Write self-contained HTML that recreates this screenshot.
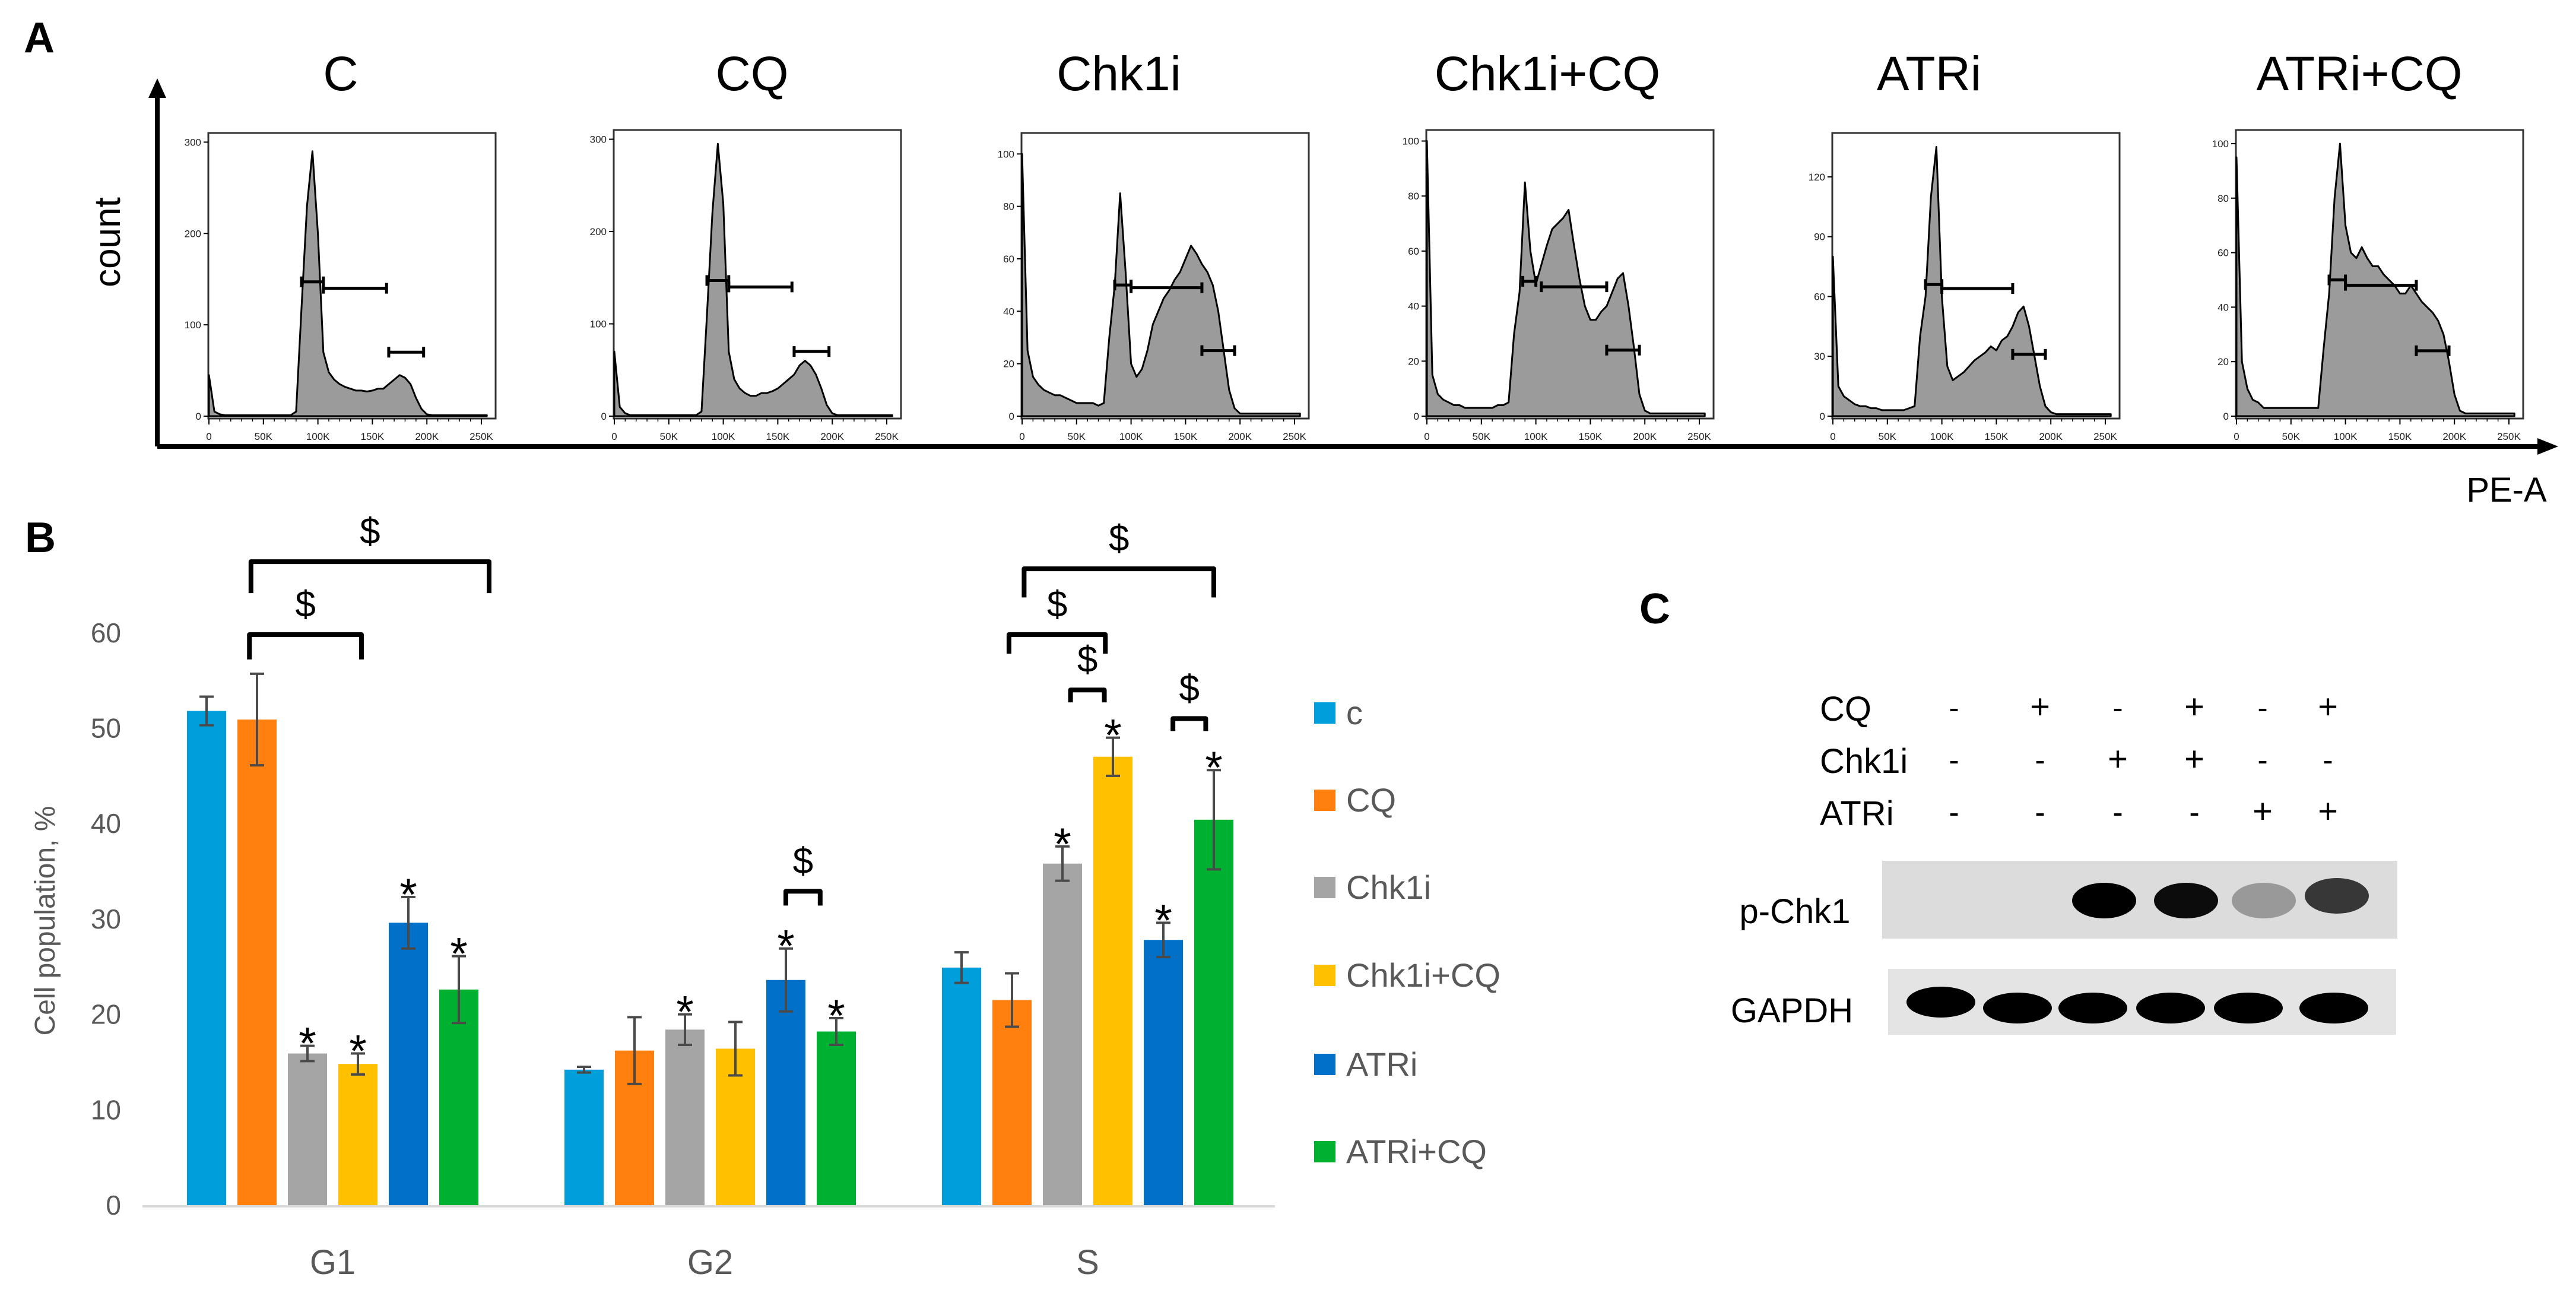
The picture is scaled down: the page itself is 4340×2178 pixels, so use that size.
<!DOCTYPE html>
<html><head><meta charset="utf-8">
<style>
html,body{margin:0;padding:0;background:#fff;}
svg{display:block;}
text{font-family:"Liberation Sans Narrow","Liberation Sans",sans-serif;}
</style></head>
<body>
<svg id="fig" width="4340" height="2178" viewBox="0 0 4340 2178" xmlns="http://www.w3.org/2000/svg">
<g id="panelA"></g>
<g id="panelB"></g>
<g id="panelC"></g>
</svg>
<script>
// ===== Panel A data =====
const histTitles = ["C","CQ","Chk1i","Chk1i+CQ","ATRi","ATRi+CQ"];
const histBins = [0,5,10,15,20,25,30,35,40,45,50,55,60,65,70,75,80,85,90,95,100,105,110,115,120,125,130,135,140,145,150,155,160,165,170,175,180,185,190,195,200,205,210,215,220,225,230,235,240,245,250,255];
const histC    = [45,5,2,1,1,1,1,1,1,1,1,1,1,1,1,1,5,120,230,290,200,70,48,40,35,32,30,28,28,27,28,30,30,35,40,45,42,35,20,8,2,1,1,1,1,1,1,1,1,1,1,1];
const histCQ   = [70,10,3,1,1,1,1,1,1,1,1,1,1,1,1,1,5,110,220,295,230,70,40,30,25,22,22,25,25,27,30,35,40,45,55,60,55,45,30,12,3,1,1,1,1,1,1,1,1,1,1,1];
const histChk  = [100,25,15,12,10,9,8,8,7,6,5,5,5,5,4,5,30,50,85,55,20,15,18,25,35,40,45,48,52,55,60,65,62,58,55,50,40,25,10,3,1,1,1,1,1,1,1,1,1,1,1,1];
const histChkCQ= [100,15,8,6,5,4,4,3,3,3,3,3,3,4,4,5,30,45,85,60,48,55,62,68,70,72,75,62,50,40,35,35,38,40,45,50,52,40,25,8,2,1,1,1,1,1,1,1,1,1,1,1];
const histATR  = [80,15,10,8,6,5,5,4,4,3,3,3,3,3,4,5,40,60,110,135,60,25,18,20,22,25,28,30,32,35,33,38,40,45,52,55,45,30,15,5,2,1,1,1,1,1,1,1,1,1,1,1];
const histATRCQ= [95,20,10,6,5,3,3,3,3,3,3,3,3,3,3,3,25,45,80,100,70,60,58,62,58,55,55,52,50,48,45,45,48,45,42,40,38,35,30,20,8,2,1,1,1,1,1,1,1,1,1,1];
const histSeries = [histC,histCQ,histChk,histChkCQ,histATR,histATRCQ];
const histYMax = [310,310,108,104,142,105];
const histYTicks = [[0,100,200,300],[0,100,200,300],[0,20,40,60,80,100],[0,20,40,60,80,100],[0,30,60,90,120],[0,20,40,60,80,100]];
const histXTicks = ["0","50K","100K","150K","200K","250K"];
const gateG1 = [[85,105,147],[85,105,147],[85,100,50],[88,100,49],[85,100,66],[85,100,50]];
const gateS  = [[105,163,140],[105,163,140],[100,165,49],[105,165,47],[100,165,64],[100,165,48]];
const gateG2 = [[165,197,70],[165,197,70],[165,195,25],[165,195,24],[165,195,31],[165,195,24]];

// ===== Panel B data =====
const categories = ["G1","G2","S"];
const seriesNames = ["c","CQ","Chk1i","Chk1i+CQ","ATRi","ATRi+CQ"];
const seriesColors = ["#009FDB","#FF800F","#A5A5A5","#FFC000","#0070C8","#00B030"];
const valC      = [51.8,14.2,24.9];
const valCQ     = [50.9,16.2,21.5];
const valChk    = [15.9,18.4,35.8];
const valChkCQ  = [14.8,16.4,47.0];
const valATR    = [29.6,23.6,27.8];
const valATRCQ  = [22.6,18.2,40.4];
const errC      = [1.5,0.3,1.6];
const errCQ     = [4.8,3.5,2.8];
const errChk    = [0.8,1.6,1.8];
const errChkCQ  = [1.1,2.8,2.0];
const errATR    = [2.7,3.3,1.8];
const errATRCQ  = [3.5,1.4,5.2];
const starC     = [0,0,0];
const starCQ    = [0,0,0];
const starChk   = [1,1,1];
const starChkCQ = [1,0,1];
const starATR   = [1,1,1];
const starATRCQ = [1,1,1];
const yTicks = [0,10,20,30,40,50,60];
const bracketCat  = [0,0,2,2,2,2,1];
const bracketFrom = [0.88,0.85,1.24,0.94,2.16,4.19,4.0];
const bracketTo   = [5.6,3.07,5.0,2.85,2.83,4.84,4.68];
const bracketTop  = [67.45,59.8,66.7,59.8,54.0,51.0,32.9];
const bracketLeg  = [3.3,2.6,3.0,2.0,1.3,1.3,1.5];

// ===== Panel C data =====
const blotRows = ["CQ","Chk1i","ATRi"];
const signCQ  = ["-","+","-","+","-","+"];
const signChk = ["-","-","+","+","-","-"];
const signATR = ["-","-","-","-","+","+"];
const pChk1Intensity = [0.0,0.0,1.0,0.95,0.3,0.75];
const gapdhIntensity = [1,1,1,1,1,1];

const NS="http://www.w3.org/2000/svg";
function mk(tag,attrs,parent,txt){const e=document.createElementNS(NS,tag);for(const k in attrs)e.setAttribute(k,attrs[k]);if(txt!==undefined)e.textContent=txt;parent.appendChild(e);return e;}

// ---------- Panel A ----------
const A=document.getElementById('panelA');
let t=mk('text',{x:40,y:88,'font-size':72,'font-weight':'bold'},A,'A');


let ax=mk('path',{d:'M265,752 L265,150 M4285,752 L265,752',stroke:'#000','stroke-width':8,fill:'none'},A);


let ar=mk('path',{d:'M250,165 L265,132 L280,165 Z M4275,738 L4310,752 L4275,766 Z',fill:'#000'},A);


t=mk('text',{x:0,y:0,'font-size':62,'text-anchor':'middle',transform:'translate(202,408) rotate(-90)','font-family':'Liberation Sans'},A,'count');


t=mk('text',{x:4223,y:845,'font-size':58,'text-anchor':'middle'},A,'PE-A');



const boxLeft=[351,1034,1721,2403,3087,3767];
const boxTop=[224,219,224,219,224,219];
const titleX=[574,1267,1885,2607,3250,3975];
const boxW=484, boxBottom=705;
for(let p=0;p<6;p++){
  const g=mk('g',{},A);
  
  
  const L=boxLeft[p], T=boxTop[p], B=boxBottom;
  const x0=L+1, xs=459/250;
  const X=k=>x0+k*xs;
  const Y=v=>B-4-(v/histYMax[p])*(B-4-T);
  let tt=mk('text',{x:titleX[p],y:152,'font-size':82,'text-anchor':'middle'},g,histTitles[p]);
  
  
  let bx=mk('rect',{x:L,y:T,width:boxW,height:B-T,fill:'#fff',stroke:'#333','stroke-width':3},g);
  
  
  const s=histSeries[p];
  let d='M'+X(0)+','+Y(0);
  for(let i=0;i<histBins.length;i++){d+=' L'+X(histBins[i]).toFixed(1)+','+Y(s[i]).toFixed(1);}
  d+=' L'+X(255)+','+Y(0)+' Z';
  let ar2=mk('path',{d:d,fill:'#9b9b9b',stroke:'#000','stroke-width':3,'stroke-linejoin':'round'},g);
  
  
  histYTicks[p].forEach(v=>{
    mk('line',{x1:L-8,x2:L,y1:Y(v),y2:Y(v),stroke:'#000','stroke-width':2},g);
    let tl=mk('text',{x:L-12,y:Y(v)+6,'font-size':17,'text-anchor':'end',fill:'#222'},g,String(v));
    
    
  });
  histXTicks.forEach((lab,i)=>{
    const xx=X(i*50);
    mk('line',{x1:xx,x2:xx,y1:B,y2:B+10,stroke:'#000','stroke-width':2},g);
    let tl=mk('text',{x:xx,y:B+36,'font-size':17,'text-anchor':'middle',fill:'#222'},g,lab);
    
    
  });
  for(let k=10;k<250;k+=10){ if(k%50) mk('line',{x1:X(k),x2:X(k),y1:B,y2:B+5,stroke:'#000','stroke-width':1.5},g); }
  [gateG1[p],gateS[p],gateG2[p]].forEach((gt,gi)=>{
    const y=Y(gt[2]), a=X(gt[0]), b=X(gt[1]);
    let gl=mk('path',{d:`M${a},${y-9} L${a},${y+9} M${a},${y} L${b},${y} M${b},${y-9} L${b},${y+9}`,stroke:'#000','stroke-width':5,fill:'none'},g);
    
    
  });
}

// ---------- Panel B ----------
const Bp=document.getElementById('panelB');
t=mk('text',{x:42,y:930,'font-size':72,'font-weight':'bold'},Bp,'B');


const base=2030, pxPer=16.07;
const yB=v=>base-v*pxPer;
const groupX=gi=>315+gi*636;
const barW=66, pitch=85;
yTicks.forEach(v=>{
  let tl=mk('text',{x:204,y:yB(v)+16,'font-size':46,'text-anchor':'end',fill:'#595959'},Bp,String(v));
  
  
});
let bl=mk('line',{x1:240,x2:2148,y1:base+2,y2:base+2,stroke:'#d9d9d9','stroke-width':4},Bp);


t=mk('text',{x:0,y:0,'font-size':48,'text-anchor':'middle',fill:'#595959','font-family':'Liberation Sans',transform:'translate(92,1551) rotate(-90)'},Bp,'Cell population, %');


categories.forEach((c,gi)=>{
  let tl=mk('text',{x:groupX(gi)+2.5*pitch+barW/2,y:2146,'font-size':58,'text-anchor':'middle',fill:'#595959'},Bp,c);
  
  
});
const vals=[valC,valCQ,valChk,valChkCQ,valATR,valATRCQ];
const errs=[errC,errCQ,errChk,errChkCQ,errATR,errATRCQ];
const stars=[starC,starCQ,starChk,starChkCQ,starATR,starATRCQ];
for(let gi=0;gi<categories.length;gi++){
  for(let s=0;s<6;s++){
    const x=groupX(gi)+s*pitch, v=vals[s][gi], e=errs[s][gi], cx=x+barW/2;
    let r=mk('rect',{x:x,y:yB(v),width:barW,height:base-yB(v),fill:seriesColors[s]},Bp);
    
    
    let eb=mk('path',{d:`M${cx},${yB(v+e)} L${cx},${yB(v-e)} M${cx-12},${yB(v+e)} L${cx+12},${yB(v+e)} M${cx-12},${yB(v-e)} L${cx+12},${yB(v-e)}`,stroke:'#4a4a4a','stroke-width':4,fill:'none'},Bp);
    
    
    if(stars[s][gi]){
      let st=mk('text',{x:cx,y:yB(v+e)+22,'font-size':76,'text-anchor':'middle','font-family':'Liberation Sans'},Bp,'*');
      
      
    }
  }
}
for(let i=0;i<bracketCat.length;i++){
  const c0=groupX(bracketCat[i])+barW/2;
  const a=c0+bracketFrom[i]*pitch, b=c0+bracketTo[i]*pitch;
  const top=yB(bracketTop[i]), bot=yB(bracketTop[i]-bracketLeg[i]);
  let br=mk('path',{d:`M${a},${bot} L${a},${top} L${b},${top} L${b},${bot}`,stroke:'#000','stroke-width':8,fill:'none','stroke-linejoin':'round'},Bp);
  
  
  let dl=mk('text',{x:(a+b)/2,y:top-30,'font-size':62,'text-anchor':'middle'},Bp,'$');
  
  
}
const legY=[1201,1348,1495,1643,1793,1940];
seriesNames.forEach((n,s)=>{
  const g=mk('g',{},Bp);
  
  
  mk('rect',{x:2214,y:legY[s]-18,width:36,height:36,fill:seriesColors[s]},g);
  mk('text',{x:2268,y:legY[s]+19,'font-size':56,fill:'#595959'},g,n);
});

// ---------- Panel C ----------
const C=document.getElementById('panelC');
t=mk('text',{x:2762,y:1050,'font-size':72,'font-weight':'bold'},C,'C');


const laneX=[3292,3437,3568,3697,3812,3922];
const rowY=[1214,1302,1390];
const signs=[signCQ,signChk,signATR];
blotRows.forEach((r,ri)=>{
  let tl=mk('text',{x:3066,y:rowY[ri],'font-size':58},C,r);
  
  
  signs[ri].forEach((sg,li)=>{
    let st=mk('text',{x:laneX[li],y:rowY[ri]-4,'font-size':sg==='+'?58:52,'text-anchor':'middle'},C,sg);
    
    
  });
});
let pb=mk('rect',{x:3171,y:1450,width:868,height:131,fill:'#dcdcdc'},C);


let gb=mk('rect',{x:3181,y:1632,width:856,height:111,fill:'#e4e4e4'},C);


t=mk('text',{x:3024,y:1555,'font-size':58,'text-anchor':'middle'},C,'p-Chk1');


t=mk('text',{x:3019,y:1722,'font-size':58,'text-anchor':'middle'},C,'GAPDH');


const pLane=[3290,3420,3545,3683,3814,3937];
pChk1Intensity.forEach((v,i)=>{
  if(v<=0)return;
  let e=mk('ellipse',{cx:pLane[i],cy:1517-(i===5?8:0),rx:54,ry:30,fill:'#000','fill-opacity':v},C);
  
  
});
const gLane=[3270,3399,3526,3657,3788,3932];
gapdhIntensity.forEach((v,i)=>{
  let e=mk('ellipse',{cx:gLane[i],cy:i===0?1688:1698,rx:58,ry:26,fill:'#000','fill-opacity':v},C);
  
  
});
</script>
</body></html>
